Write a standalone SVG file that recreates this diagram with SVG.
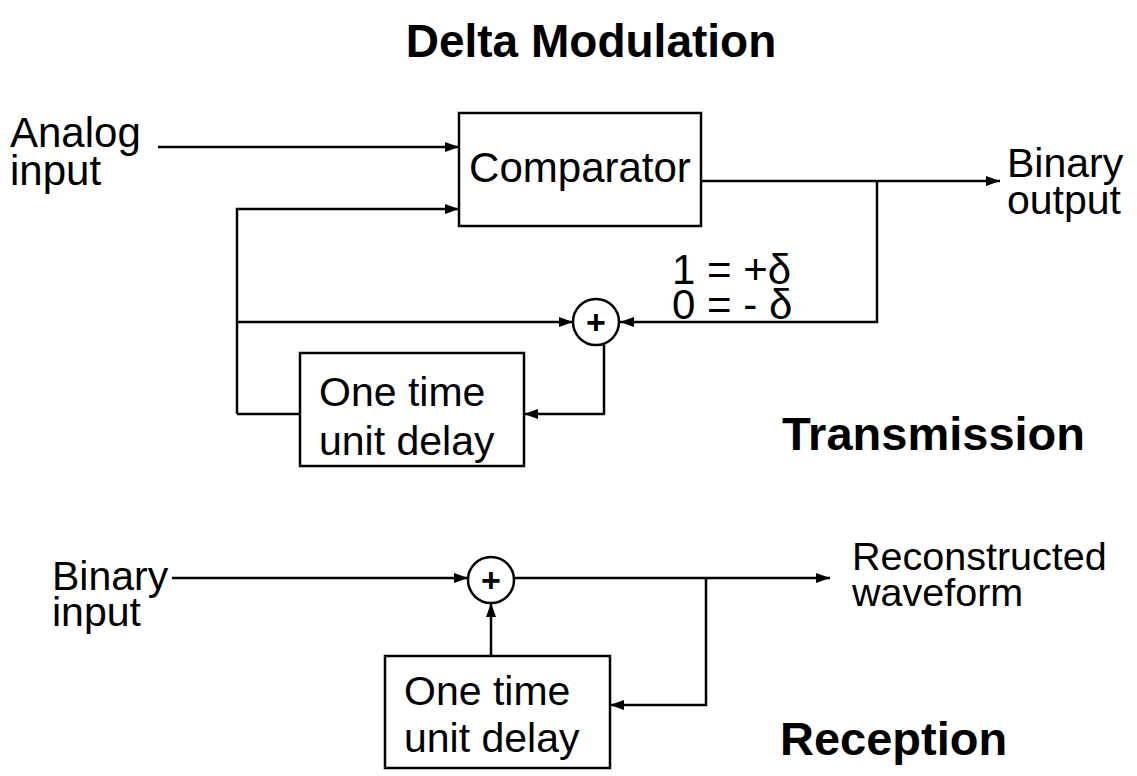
<svg xmlns="http://www.w3.org/2000/svg" width="1137" height="776" viewBox="0 0 1137 776">
<style>
.t{font-family:"Liberation Sans",Arial,sans-serif;fill:#000}
.b{font-family:"Liberation Sans",Arial,sans-serif;font-weight:bold;fill:#000}
.box{fill:#fff;stroke:#000;stroke-width:2.5}
.ln{fill:none;stroke:#000;stroke-width:2.5}
</style>
<defs>
<marker id="arr" viewBox="0 0 14 10" refX="14" refY="5" markerWidth="14" markerHeight="11" orient="auto" markerUnits="userSpaceOnUse"><path d="M0,0 L14,5 L0,10 z" fill="#000"/></marker>
</defs>
<rect width="1137" height="776" fill="#fff"/>
<text class="b" x="591" y="57" font-size="46" text-anchor="middle">Delta Modulation</text>

<g id="connectors">
<line class="ln" x1="158" y1="147" x2="459" y2="147" marker-end="url(#arr)"/>
<polyline class="ln" points="237,414 237,209 459,209" marker-end="url(#arr)"/>
<line class="ln" x1="701" y1="181" x2="1000" y2="181" marker-end="url(#arr)"/>
<polyline class="ln" points="877,181 877,322 620,322" marker-end="url(#arr)"/>
<line class="ln" x1="237" y1="322" x2="573" y2="322" marker-end="url(#arr)"/>
<line class="ln" x1="237" y1="414" x2="300" y2="414"/>
<polyline class="ln" points="604,345 604,414 524,414" marker-end="url(#arr)"/>
<line class="ln" x1="172" y1="578" x2="468" y2="578" marker-end="url(#arr)"/>
<line class="ln" x1="491" y1="656" x2="491" y2="603" marker-end="url(#arr)"/>
<line class="ln" x1="514" y1="578" x2="830" y2="578" marker-end="url(#arr)"/>
<polyline class="ln" points="706,578 706,705 610,705" marker-end="url(#arr)"/>
</g>

<g id="analog-input"><text class="t" font-size="42" x="10" y="147">Analog</text><text class="t" font-size="42" x="10" y="185">input</text></g>
<g id="comparator"><rect class="box" x="459" y="113" width="242" height="113"/><text class="t" font-size="42" x="580" y="182" text-anchor="middle">Comparator</text></g>
<g id="binary-output"><text class="t" font-size="41" x="1007" y="177">Binary</text><text class="t" font-size="41" x="1007" y="214">output</text></g>
<g id="delta-label"><text class="t" font-size="42" x="672" y="284">1 = +δ</text><text class="t" font-size="42" x="672" y="319">0 = - δ</text></g>
<g id="sum-tx"><circle class="box" cx="596" cy="322" r="23"/><text class="b" font-size="34" x="596" y="334" text-anchor="middle">+</text></g>
<g id="delay-tx"><rect class="box" x="300" y="353" width="224" height="113"/><text class="t" font-size="41" x="319" y="406">One time</text><text class="t" font-size="41" x="319" y="455">unit delay</text></g>
<g id="transmission"><text class="b" font-size="47" x="782" y="450">Transmission</text></g>

<g id="binary-input"><text class="t" font-size="41" x="52" y="590">Binary</text><text class="t" font-size="41" x="52" y="626">input</text></g>
<g id="sum-rx"><circle class="box" cx="491" cy="580" r="23"/><text class="b" font-size="34" x="491" y="592" text-anchor="middle">+</text></g>
<g id="delay-rx"><rect class="box" x="385" y="656" width="225" height="112"/><text class="t" font-size="41" x="404" y="705">One time</text><text class="t" font-size="41" x="404" y="752">unit delay</text></g>
<g id="reconstructed"><text class="t" font-size="39.5" x="852" y="570">Reconstructed</text><text class="t" font-size="39.5" x="852" y="606">waveform</text></g>
<g id="reception"><text class="b" font-size="47" x="780" y="755">Reception</text></g>
</svg>
